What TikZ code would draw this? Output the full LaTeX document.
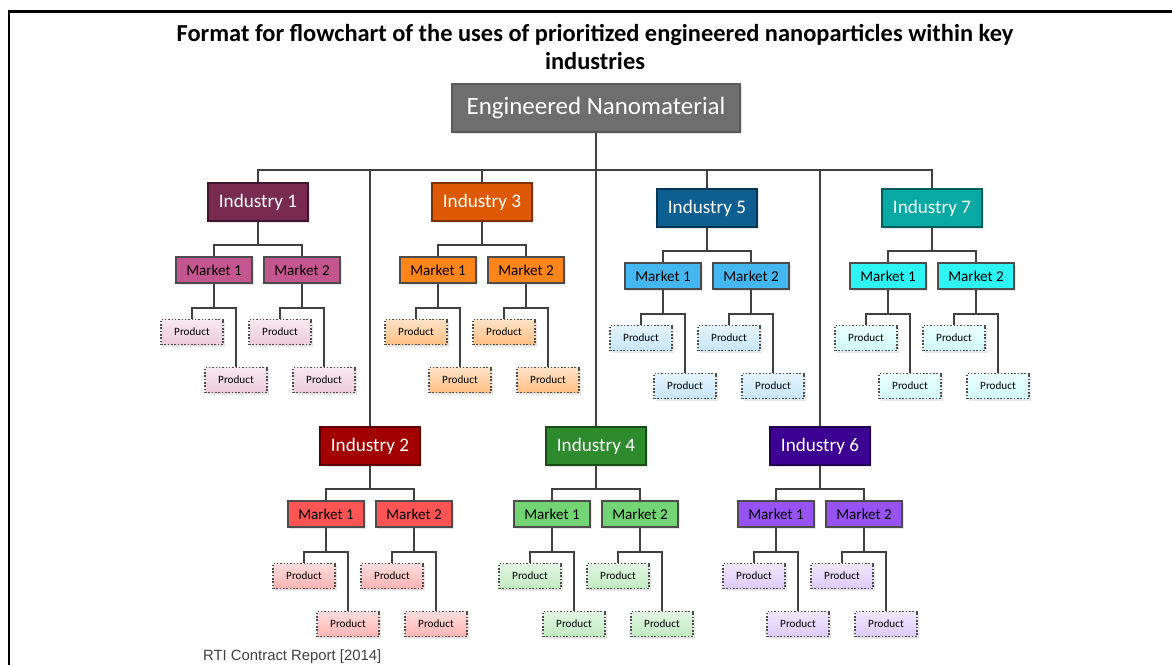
\documentclass[tikz,border=0pt]{standalone}
\usepackage{fontspec}
\setmainfont{Carlito}
\newfontfamily\footfont{Liberation Sans}
\usetikzlibrary{positioning,shadows}

\definecolor{rootgray}{HTML}{6E6E6E}
\definecolor{ind1}{HTML}{782A50}
\definecolor{ind2}{HTML}{A30000}
\definecolor{ind3}{HTML}{DE5905}
\definecolor{ind4}{HTML}{2D8A2D}
\definecolor{ind5}{HTML}{0D5F92}
\definecolor{ind6}{HTML}{3C0093}
\definecolor{ind7}{HTML}{06A9A3}
\definecolor{mar1}{HTML}{C3568E}
\definecolor{mar2}{HTML}{FF5454}
\definecolor{mar3}{HTML}{FD851A}
\definecolor{mar4}{HTML}{72D472}
\definecolor{mar5}{HTML}{45B7F0}
\definecolor{mar6}{HTML}{9653F2}
\definecolor{mar7}{HTML}{2FF4F4}
\definecolor{pro1}{HTML}{EDCCDB}
\definecolor{pro2}{HTML}{FFB3B3}
\definecolor{pro3}{HTML}{FFC083}
\definecolor{pro4}{HTML}{C2EAC2}
\definecolor{pro5}{HTML}{C6E6FA}
\definecolor{pro6}{HTML}{DCCBF9}
\definecolor{pro7}{HTML}{D2FCFC}

\begin{document}
\begin{tikzpicture}[x=0.02cm,y=-0.02cm]
	\tikzstyle{Box}		= [rectangle, draw=black!70, line width=0.9pt, inner sep=0pt, drop shadow={opacity=0.2, shadow xshift=1.2pt, shadow yshift=-1.2pt}]
	\tikzstyle{Root}	= [Box, fill=rootgray, draw=black!65, text=white, minimum width=5.76cm, minimum height=0.96cm, font=\fontsize{14.2}{17}\selectfont]
	\tikzstyle{Industry}	= [Box, text=white, minimum width=2cm, minimum height=0.75cm, font=\fontsize{10.9}{13}\selectfont]
	\tikzstyle{Market}	= [Box, minimum width=1.52cm, minimum height=0.52cm, font=\fontsize{8.6}{10}\selectfont]
	\tikzstyle{Product}	= [Box, densely dotted, line width=0.7pt, minimum width=1.24cm, minimum height=0.5cm, font=\fontsize{6.35}{7.5}\selectfont]
	\tikzstyle{Link}	= [black!75, line width=0.7pt]

	\useasboundingbox (0,0) rectangle (1172,664);
	\draw [line width=1.7pt] (9,11) rectangle (1190,690);

	\node (title) at (595,47) [align=center, font=\fontsize{13.9}{16.5}\selectfont\bfseries] {Format for flowchart of the uses of prioritized engineered nanoparticles within key\\industries};
	\node (root) at (596,108) [Root] {Engineered Nanomaterial};
	\coordinate (hub) at (596,170);
	\draw [Link] (root) -- (hub);

	\foreach \n/\x/\y in {1/258/202, 2/370/446, 3/482/202, 4/596/446, 5/707/208, 6/820/446, 7/932/208} {
		\begin{scope}[shift={(\x,\y)}]
			\node (i\n) at (0,0) [Industry, fill=ind\n, draw=ind\n!55!black] {Industry \n};
			\coordinate (b\n) at (0,43);
			\draw [Link] (i\n) -- (b\n);
			\foreach \k/\dx in {1/-44, 2/44} {
				\node (m\n\k) at (\dx,68) [Market, fill=mar\n] {Market \k};
				\coordinate (c\n\k) at (\dx,106);
				\node (p\n\k1) at (\dx-22,130) [Product, top color=pro\n!45!white, bottom color=pro\n] {Product};
				\node (p\n\k2) at (\dx+22,178) [Product, top color=pro\n!45!white, bottom color=pro\n] {Product};
				\draw [Link] (b\n) -| (m\n\k);
				\draw [Link] (m\n\k) -- (c\n\k);
				\draw [Link] (c\n\k) -| (p\n\k1);
				\draw [Link] (c\n\k) -| (p\n\k2);
			}
		\end{scope}
		\draw [Link] (i\n.north) |- (hub);
	}

	\node (src) at (197,657) [anchor=west, text=black!75, font=\footfont\fontsize{8.45}{10}\selectfont] {RTI Contract Report [2014]};
\end{tikzpicture}
\end{document}
